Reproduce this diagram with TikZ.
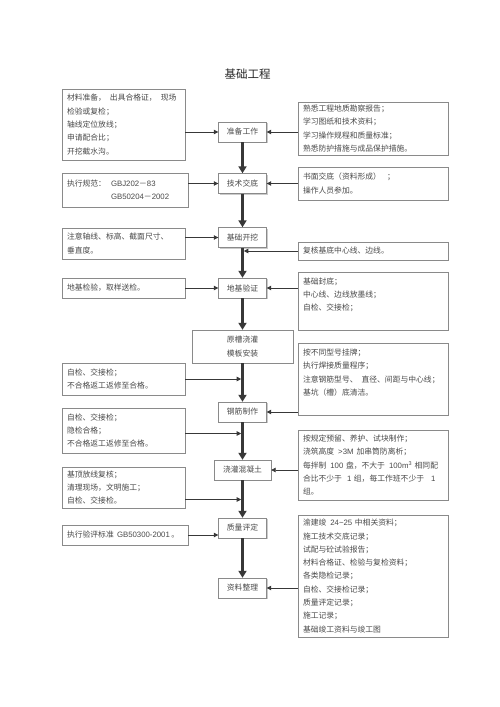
\documentclass[tikz,border=0pt]{standalone}
\usepackage{fontspec}
\setmainfont{Noto Sans CJK SC}
\newfontfamily\lat{Liberation Sans}
\usepackage{tikz}
\usetikzlibrary{arrows.meta,shadows}
\definecolor{ink}{HTML}{4A4A4A}
\definecolor{edge}{HTML}{8A8A8A}
\definecolor{wire}{HTML}{383838}
\tikzstyle{Step}=[rectangle, draw=edge, fill=white, drop shadow={shadow xshift=1pt, shadow yshift=-1pt, fill=gray!80}, minimum width=48pt, minimum height=20pt, inner sep=0pt, text=ink, font=\fontsize{7.8}{13.3}\selectfont]
\tikzstyle{Note}=[rectangle, draw=edge, fill=white, drop shadow={shadow xshift=1pt, shadow yshift=-1pt, fill=gray!80}, inner xsep=5pt, inner ysep=0pt, align=left, text=ink, font=\fontsize{7.8}{13.3}\selectfont]
\tikzstyle{Spine}=[draw=wire, line width=2.6pt, -{Triangle[length=7pt,width=8pt]}]
\tikzstyle{Feed}=[draw=wire, line width=0.8pt, -{Triangle[length=4.5pt,width=4.5pt]}]

\begin{document}
\begin{tikzpicture}[x=1pt, y=-1pt]
    \fill[white] (0,0) rectangle (500,707);
    \useasboundingbox (0,0) rectangle (500,707);

    \path
    (247.5,74) node[font=\fontsize{11.5}{14}\selectfont, text=black!85] (title) {基础工程}
    (242.5,132) node[Step] (prep) {准备工作}
    (242.5,183.5) node[Step] (brief) {技术交底}
    (242.5,237.5) node[Step] (dig) {基础开挖}
    (242.5,288) node[Step] (verify) {地基验证}
    (242.5,346.5) node[Step, minimum width=101pt, minimum height=33pt, align=center] (form) {原槽浇灌\\模板安装}
    (242.5,412) node[Step] (rebar) {钢筋制作}
    (242.5,470) node[Step, minimum width=57pt] (pour) {浇灌混凝土}
    (242.5,528) node[Step] (grade) {质量评定}
    (242.5,588) node[Step] (files) {资料整理};

    \path
    (123.5,124.5) node[Note, text width=113pt, minimum height=71pt] (L1) {材料准备，\hspace{4pt}出具合格证，\hspace{4pt}现场\\检验或复检；\\轴线定位放线；\\申请配合比；\\开挖截水沟。}
    (125,190) node[Note, text width=116pt, minimum height=34pt] (L2) {\makebox[44pt][l]{执行规范：}{\lat GBJ202}－{\lat 83}\\\hspace*{44pt}{\lat GB50204}－{\lat 2002}}
    (123.5,243.5) node[Note, text width=113pt, minimum height=31pt] (L3) {注意轴线、标高、截面尺寸、\\垂直度。}
    (123.5,288) node[Note, text width=113pt, minimum height=20pt] (L4) {地基检验，取样送检。}
    (123.5,379) node[Note, text width=113pt, minimum height=32pt] (L5) {自检、交接检；\\不合格返工返修至合格。}
    (123.5,430.5) node[Note, text width=113pt, minimum height=45pt] (L6) {自检、交接检；\\隐检合格；\\不合格返工返修至合格。}
    (123.5,487.5) node[Note, text width=113pt, minimum height=41pt] (L7) {基顶放线复核；\\清理现场，文明施工；\\自检、交接检。}
    (125,535) node[Note, text width=116pt, minimum height=20pt] (L8) {\makebox[50pt][l]{执行验评标准}{\lat GB50300-2001}\hspace{1.5pt}。};

    \path
    (373,128.5) node[Note, text width=140pt, minimum height=53pt] (R1) {熟悉工程地质勘察报告；\\学习图纸和技术资料；\\学习操作规程和质量标准；\\熟悉防护措施与成品保护措施。}
    (373,183.5) node[Note, text width=140pt, minimum height=33pt] (R2) {书面交底（资料形成）\hspace{6pt}；\\操作人员参加。}
    (373,251) node[Note, text width=140pt, minimum height=18pt] (R3) {复核基底中心线、边线。}
    (373,301) node[Note, text width=140pt, minimum height=58pt] (R4) {基础封底；\\中心线、边线放墨线；\\自检、交接检；\\\mbox{}}
    (373,379) node[Note, text width=140pt, minimum height=72pt] (R5) {按不同型号挂牌；\\执行焊接质量程序；\\注意钢筋型号、\hspace{4pt}直径、间距与中心线；\\基坑（槽）底清洁。\\\mbox{}}
    (373,465) node[Note, text width=140pt, minimum height=70pt] (R6) {按规定预留、养护、试块制作；\\浇筑高度\hspace{4pt}{\lat >3M}\hspace{3pt}加串筒防离析；\\每拌制\hspace{4pt}{\lat 100} 盘，不大于\hspace{4pt}{\lat 100m\textsuperscript{3}} 相同配\\合比不少于\hspace{5pt}{\lat 1} 组，每工作班不少于\hspace{7pt}{\lat 1}\\组。}
    (373,576) node[Note, text width=140pt, minimum height=122pt] (R7) {渝建竣\hspace{4pt}{\lat 24\textasciitilde 25} 中相关资料；\\施工技术交底记录；\\试配与砼试验报告；\\材料合格证、检验与复检资料；\\各类隐检记录；\\自检、交接检记录；\\质量评定记录；\\施工记录；\\基础竣工资料与竣工图};

    \draw[Spine] (prep) -- (brief);
    \draw[Spine] (brief) -- (dig);
    \draw[Spine] (dig) -- (verify);
    \draw[Spine] (verify) -- (form);
    \draw[Spine] (form) -- (rebar);
    \draw[Spine] (rebar) -- (pour);
    \draw[Spine] (pour) -- (grade);
    \draw[Spine] (grade) -- (files);

    \draw[Feed] (L1.east |- prep) -- (prep);
    \draw[Feed] (R1.west |- prep) -- (prep);
    \draw[Feed] (L2.east |- brief) -- (brief);
    \draw[Feed] (R2.west |- brief) -- (brief);
    \draw[Feed] (L3.east |- dig) -- (dig);
    \draw[Feed, shorten >=1.3pt] (R3.west) -- (R3.west -| dig.south);
    \draw[Feed] (L4) -- (verify);
    \draw[Feed] (R4.west |- verify) -- (verify);
    \draw[Feed, shorten >=1.3pt] (L5.east) -- (L5.east -| form.south);
    \draw[Feed] (R5.west |- rebar) -- (rebar);
    \draw[Feed, shorten >=1.3pt] ([yshift=-3pt]L6.east) -- ([yshift=-3pt]L6.east -| rebar.south);
    \draw[Feed] (R6.west |- pour) -- (pour);
    \draw[Feed, shorten >=1.3pt] ([yshift=-12pt]L7.east) -- ([yshift=-12pt]L7.east -| pour.south);
    \draw[Feed] (L8.east) -- (L8.east -| grade.west);
    \draw[Feed] (R7.west |- files) -- (files);
\end{tikzpicture}
\end{document}
